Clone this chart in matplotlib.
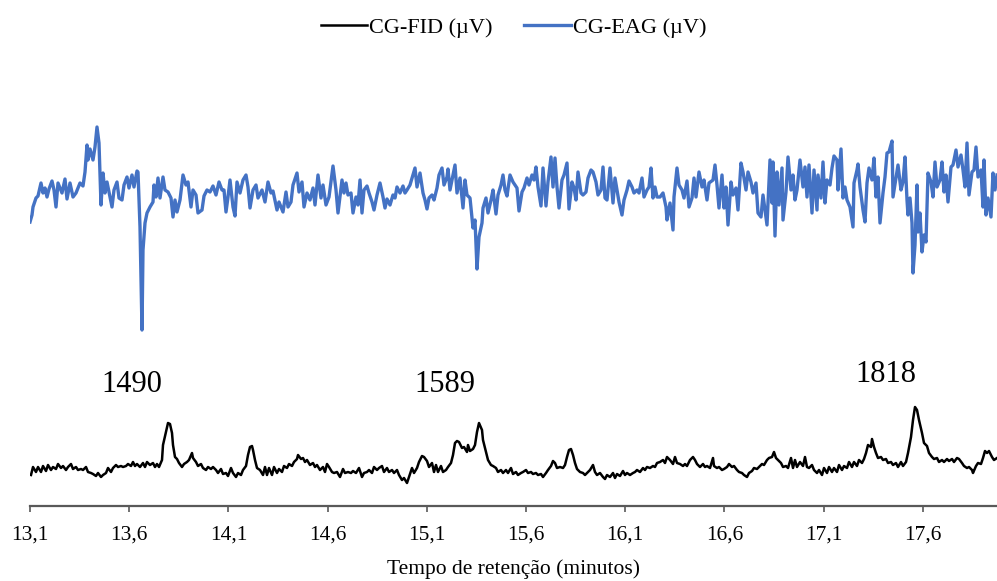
import numpy as np
import matplotlib
matplotlib.use("Agg")
import matplotlib.pyplot as plt

plt.rcParams['font.family'] = ['Liberation Serif', 'DejaVu Serif']

# acquisition: scan index -> retention time (min)
T_START = 13.1
SCAN_STEP = 0.5 / 99.2

# CG-EAG trace (scan index, signal)
eag_scan = [0, 2, 3, 6, 8, 11, 13, 15, 17, 19, 22, 24, 26, 28, 32, 35, 37, 40, 43, 46,
            50, 53, 55, 57, 58, 60, 63, 65, 67, 69, 71, 73, 75, 77, 80, 82, 84, 87, 89, 92,
            94, 97, 99, 102, 104, 107, 108, 110, 112, 113, 115, 117, 120, 123, 124, 126, 128, 130, 133, 135,
            138, 141, 143, 145, 147, 150, 153, 156, 158, 161, 163, 166, 168, 172, 174, 177, 180, 183, 186, 189,
            192, 194, 196, 198, 200, 203, 205, 207, 210, 213, 216, 218, 220, 223, 226, 228, 232, 235, 238, 241,
            243, 247, 249, 253, 256, 258, 261, 263, 267, 269, 272, 274, 277, 280, 283, 285, 288, 291, 293, 296,
            299,
            303, 306, 308, 312, 314, 316, 318, 321, 323, 326, 328, 330, 332, 334, 337, 339, 342, 344, 347, 350,
            353, 355, 357, 360, 363, 365, 367, 370, 373, 375, 377, 380, 383, 385, 387, 390, 393, 395, 397, 399,
            402, 404, 407, 409, 412, 414, 417, 418, 420, 423, 425, 427, 430, 433, 435, 437, 440, 443, 445, 447,
            449, 452, 453, 456, 458, 461, 463, 466, 468, 471, 473, 475, 477, 480, 483, 485, 487, 489, 492, 494,
            497, 499, 502, 504, 506, 508, 511, 513, 516, 518, 521, 523, 525, 527, 529, 532, 534, 537, 539, 542,
            544, 546, 548, 551, 553, 556, 558, 561, 563, 566, 568, 571, 573, 575, 577, 580, 583, 585, 587, 589,
            592, 594, 597, 599, 602, 604, 607, 609, 612, 614, 617, 619, 621, 623, 625, 627,
            630, 633, 636, 637, 640, 643, 644, 647, 649, 652, 654, 657, 659, 662, 664, 666, 669, 672, 674, 677,
            679, 683, 685, 687, 689, 692, 694, 696, 698, 701, 703, 706, 708, 711, 713, 716, 718, 721, 723, 726,
            728, 731, 733, 736, 737, 740, 742, 743, 745, 747, 749, 752, 753, 756, 758, 761, 763, 765, 767, 770,
            773, 775, 777, 779, 782, 784, 787, 788, 791, 793, 795, 797, 800, 802, 804, 807, 808, 811, 813, 815,
            817, 820, 823, 824, 827, 828, 830, 833, 835, 837, 839, 842, 844, 846, 848, 850, 853, 855, 857, 859,
            862, 863, 866, 868, 871, 873, 875, 877, 878, 880, 882, 883, 885, 887, 888, 890, 892, 894, 896, 898,
            901, 903, 905, 907, 910, 912, 914, 916, 918, 921, 923, 926, 928, 931, 933, 935, 937, 939, 942, 944,
            946, 948, 951, 953, 954, 956, 958, 961, 963, 965, 967]
eag_signal = [278, 285, 293, 302, 304, 317, 307, 312, 303, 311, 319, 310, 293, 317, 307, 321, 301, 317, 303, 307,
              317, 314, 328, 355, 340, 351, 340, 353, 373, 357, 295, 327, 307, 318, 303, 293, 310, 318, 302, 300,
              315, 323, 312, 325, 313, 329, 328, 273, 170, 250, 277, 287, 293, 298, 315, 303, 322, 302, 323, 310,
              308, 302, 283, 300, 288, 300, 325, 315, 318, 293, 310, 305, 287, 290, 304, 310, 308, 314, 305, 318,
              310, 310, 288, 303, 320, 293, 284, 318, 307, 320, 325, 313, 292, 310, 315, 302, 310, 298, 318, 307,
              309, 290, 298, 288, 308, 293, 298, 315, 327, 308, 318, 293, 307, 300, 312, 295, 325, 302, 315, 295,
              303,
              334, 310, 287, 320, 307, 317, 305, 307, 287, 303, 295, 320, 287, 310, 314, 307, 298, 290, 305, 317,
              303, 292, 301, 295, 305, 302, 313, 307, 314, 307, 310, 315, 325, 332, 313, 327, 307, 300, 291, 302,
              305, 300, 312, 325, 332, 315, 323, 331, 310, 325, 335, 307, 322, 292, 320, 305, 302, 272, 280, 231,
              263, 277, 292, 302, 287, 300, 310, 286, 305, 315, 325, 310, 304, 325, 318, 315, 312, 289, 308, 312,
              322, 315, 325, 320, 333, 313, 294, 332, 294, 318, 343, 313, 342, 313, 292, 320, 325, 337, 291, 318,
              312, 300, 328, 307, 305, 308, 322, 330, 328, 318, 305, 310, 333, 302, 300, 332, 297, 322, 310, 298,
              285, 300, 310, 319, 313, 307, 310, 307, 322, 303, 310, 313, 332, 302, 313, 303,
              303, 307, 293, 280, 297, 270, 303, 332, 315, 310, 302, 319, 293, 302, 322, 303, 328, 313, 320, 300,
              317, 320, 335, 315, 292, 325, 292, 313, 275, 318, 305, 312, 290, 337, 328, 310, 328, 318, 307, 317,
              287, 283, 305, 282, 275, 340, 297, 338, 264, 328, 295, 332, 280, 308, 343, 310, 325, 300, 310, 340,
              313, 333, 303, 335, 287, 330, 290, 325, 302, 338, 297, 320, 315, 332, 344, 340, 310, 351, 302, 313,
              300, 293, 273, 317, 330, 336, 313, 290, 278, 317, 332, 320, 342, 303, 323, 277, 307, 323, 347, 348,
              359, 303, 322, 335, 310, 318, 343, 300, 285, 302, 277, 227, 255, 315, 268, 287, 248, 265, 258, 327,
              318, 303, 338, 313, 320, 338, 308, 325, 298, 333, 335, 350, 333, 345, 330, 313, 357, 305, 328, 330,
              353, 323, 330, 293, 340, 285, 302, 283, 327, 310, 325]

# CG-FID trace (scan index, signal)
fid_scan = [1, 3, 6, 8, 11, 13, 16, 18, 21, 23, 26, 28, 31, 33, 36, 38, 41, 43, 46, 48,
            51, 53, 56, 58, 61, 63, 66, 68, 71, 73, 76, 78, 81, 83, 86, 88, 91, 93, 96, 98,
            101, 103, 105, 107, 110, 113, 115, 117, 120, 123, 125, 127, 129, 132, 133, 135, 137, 138, 140, 142,
            143, 145, 147, 149, 152, 154, 157, 159, 162, 163, 166, 168, 171, 173, 176, 178, 181, 183, 186, 188,
            191, 193, 196, 198, 201, 203, 206, 208, 211, 213, 216, 218, 220, 222, 223, 225, 227, 230, 233, 235,
            237, 239, 242, 244, 247, 249, 252, 254, 257, 259, 262, 264, 267, 268, 271, 273, 275, 277, 280, 283,
            285, 287, 290, 293, 295, 297, 299, 302, 304, 307, 310, 313, 315, 318, 321, 323, 326, 329, 332, 334,
            337, 339, 342, 344, 347, 349, 352, 354, 357, 359, 362, 364, 367, 369, 372, 374, 377, 379, 382, 384,
            387, 389, 392, 394, 397, 399, 402, 404, 406, 408, 411, 413, 416, 418, 421, 423, 425, 427, 429, 432,
            434, 437, 438, 440, 443, 445, 447, 449, 452, 453, 456, 458, 461, 463, 466, 468, 471, 473, 476, 478,
            481, 483, 486, 488, 491, 493, 496, 498, 501, 503, 506, 508, 511, 513, 516, 518, 521, 523, 525, 527,
            530, 533, 535, 537, 539, 541, 543, 545, 547, 550, 553, 555, 557, 560, 563, 565, 567, 570, 573, 575,
            577, 580, 583, 585, 587, 590, 593, 595, 597, 600, 603, 605, 607, 610, 613, 615, 617, 620, 623, 625,
            627, 630, 633, 635, 637, 640, 643, 645, 647, 650, 653, 655, 657, 660, 663, 665, 667, 670, 673, 675,
            677, 680, 683, 684, 687, 689, 692, 694, 697, 699, 702, 704, 707, 709, 712, 714, 717, 719, 722, 724,
            727, 729, 732, 734, 737, 739, 742, 744, 746, 748, 751, 753, 756, 758, 761, 763, 765, 767, 770, 773,
            775, 777, 779, 782, 784, 787, 789, 792, 794, 797, 799, 802, 804, 807, 809, 812, 814, 817, 819, 822,
            824, 827, 829, 832, 834, 836, 838, 841, 842, 844, 846, 848, 851, 853, 856, 858, 861, 863, 866, 868,
            871, 873, 876, 878, 881, 883, 885, 887, 889, 892, 894, 897, 899, 902, 904, 907, 909, 912, 914, 917,
            919, 922, 924, 927, 929, 932, 934, 937, 939, 942, 943, 946, 948, 951, 953, 955, 957, 959, 962, 964,
            967]
fid_signal = [25, 33, 28, 33, 28, 34, 29, 35, 30, 33, 31, 36, 32, 34, 30, 33, 36, 31, 33, 30,
              31, 30, 33, 28, 27, 26, 24, 27, 23, 25, 27, 32, 28, 32, 35, 33, 34, 33, 34, 36,
              34, 38, 34, 36, 33, 37, 33, 38, 35, 37, 33, 36, 33, 40, 55, 64, 73, 77, 76, 67,
              55, 43, 41, 37, 33, 36, 38, 40, 47, 42, 38, 34, 36, 32, 30, 33, 31, 33, 30, 27,
              31, 26, 27, 24, 32, 27, 23, 27, 25, 30, 34, 45, 53, 54, 50, 40, 32, 30, 25, 33,
              25, 32, 25, 33, 27, 31, 28, 34, 32, 36, 34, 38, 41, 45, 41, 42, 38, 40, 35, 37,
              33, 35, 30, 33, 28, 36, 33, 28, 27, 28, 23, 31, 27, 28, 27, 29, 27, 32, 23, 27,
              28, 30, 27, 33, 30, 32, 34, 28, 32, 28, 30, 27, 30, 25, 20, 22, 17, 23, 32, 27,
              32, 38, 44, 43, 39, 33, 37, 28, 35, 28, 34, 28, 30, 33, 37, 45, 57, 59, 58, 52,
              53, 48, 55, 49, 51, 55, 68, 77, 70, 60, 48, 40, 35, 34, 32, 28, 30, 27, 30, 27,
              32, 26, 28, 25, 27, 28, 30, 27, 28, 26, 27, 25, 26, 23, 27, 30, 34, 39, 37, 32,
              33, 32, 35, 43, 50, 51, 45, 37, 31, 28, 27, 25, 27, 30, 35, 28, 25, 27, 23, 21,
              25, 23, 27, 22, 26, 24, 29, 25, 27, 25, 27, 28, 30, 28, 32, 30, 33, 32, 34, 33,
              37, 38, 40, 37, 43, 40, 36, 43, 37, 36, 34, 36, 34, 40, 43, 40, 36, 33, 36, 33,
              34, 32, 42, 34, 32, 33, 30, 31, 33, 36, 33, 34, 30, 28, 27, 25, 23, 27, 29, 32,
              31, 33, 36, 35, 40, 42, 43, 48, 42, 40, 37, 33, 34, 32, 42, 32, 40, 33, 38, 34,
              43, 33, 32, 35, 30, 27, 30, 25, 32, 27, 33, 28, 32, 28, 35, 30, 34, 32, 38, 33,
              38, 34, 40, 37, 41, 47, 55, 53, 61, 53, 47, 42, 43, 40, 41, 37, 38, 35, 37, 33,
              38, 34, 38, 47, 63, 80, 93, 90, 80, 67, 57, 54, 47, 43, 41, 42, 38, 40, 38, 41,
              39, 41, 38, 42, 41, 37, 34, 32, 33, 30, 27, 34, 37, 36, 42, 49, 47, 49, 43, 40,
              42]

# retention indices labelled above FID peaks
peak_labels = ["1490", "1589", "1818"]
peak_times = [13.614, 15.192, 17.415]
peak_heights = [116, 116, 126]

tick_values = [13.1, 13.6, 14.1, 14.6, 15.1, 15.6, 16.1, 16.6, 17.1, 17.6]
tick_labels = ["13,1", "13,6", "14,1", "14,6", "15,1", "15,6", "16,1", "16,6", "17,1", "17,6"]

eag_t = T_START + SCAN_STEP * np.array(eag_scan)
fid_t = T_START + SCAN_STEP * np.array(fid_scan)

fig = plt.figure(figsize=(9.97, 5.81), dpi=100)
ax = fig.add_axes([30 / 997, 75 / 581, 967 / 997, 446 / 581])

fid_line, = ax.plot(fid_t, fid_signal, color='black', lw=1.8, solid_joinstyle='round')
eag_line, = ax.plot(eag_t, eag_signal, color='#4472C4', lw=2.4, solid_joinstyle='round')

for lab, t, h in zip(peak_labels, peak_times, peak_heights):
    ax.text(t, h, lab, ha='center', va='center', fontsize=22)

ax.set_xlim(T_START, T_START + SCAN_STEP * 967)
ax.set_ylim(-6, 440)
ax.set_xticks(tick_values)
ax.set_xticklabels(tick_labels, fontsize=15.5)
ax.set_yticks([])
for side in ['left', 'right', 'top']:
    ax.spines[side].set_visible(False)
ax.spines['bottom'].set_color('#595959')
ax.spines['bottom'].set_linewidth(1.6)
ax.tick_params(axis='x', direction='out', length=4, width=1.2, color='#595959', pad=10)
ax.set_xlabel('Tempo de retenção (minutos)', fontsize=15.5, labelpad=11)

fig.legend([fid_line, eag_line], ['CG-FID (µV)', 'CG-EAG (µV)'], loc='center',
           bbox_to_anchor=(0.515, 1 - 28 / 581), ncol=2, frameon=False, fontsize=16,
           handlelength=2.1, handletextpad=0.1, columnspacing=1.4)

fig.savefig('out.png', dpi=100)
